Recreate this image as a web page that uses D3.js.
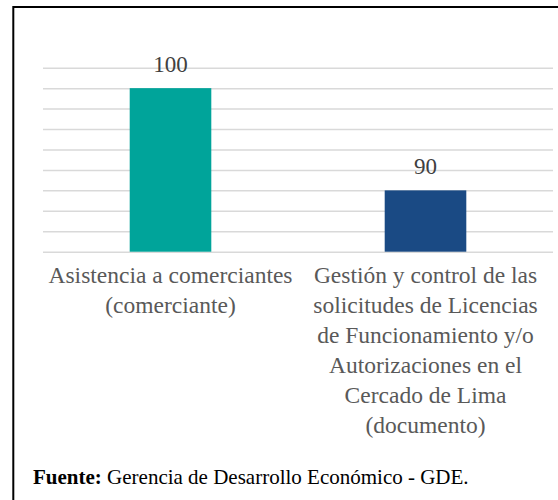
<!DOCTYPE html>
<html lang="es">
<head>
  <meta charset="UTF-8">
  <title>Asistencia y gestión - GDE</title>
  <script src="https://d3js.org/d3.v7.min.js"></script>
  <style>
    body { margin: 0; background: #fff; }
    svg { display: block; }
    text { font-family: 'Liberation Serif', Tinos, 'Times New Roman', 'DejaVu Serif', serif; }
  </style>
</head>
<body>
  <svg id="chart" width="558" height="500"></svg>

  <script>
    // data
    const categories = ["Asistencia a comerciantes (comerciante)",
      "Gestión y control de las solicitudes de Licencias de Funcionamiento y/o Autorizaciones en el Cercado de Lima (documento)"];
    const categoryLines = [
      ["Asistencia a comerciantes", "(comerciante)"],
      ["Gestión y control de las", "solicitudes de Licencias", "de Funcionamiento y/o",
        "Autorizaciones en el", "Cercado de Lima", "(documento)"]
    ];
    const values = [100, 90];
    const barColors = ["#00A49A", "#1A4A84"];
    const gridTicks = [84, 86, 88, 90, 92, 94, 96, 98, 100, 102];
    const sourceLabel = "Fuente:";
    const sourceText = " Gerencia de Desarrollo Económico - GDE.";

    const serif = "'Liberation Serif', Tinos, 'Times New Roman', 'DejaVu Serif', serif";

    const svg = d3.select("#chart");
    const margin = { top: 67.7, right: 5, bottom: 248.3, left: 43 };
    const width = +svg.attr("width");
    const height = +svg.attr("height");
    const chartWidth = width - margin.left - margin.right;
    const chartHeight = height - margin.top - margin.bottom;

    // frame (cut at right and bottom in the original)
    svg.append("rect")
      .attr("x", 13.3).attr("y", 7)
      .attr("width", 700).attr("height", 700)
      .attr("fill", "none")
      .attr("stroke", "#000")
      .attr("stroke-width", 2);

    const g = svg.append("g")
      .attr("transform", `translate(${margin.left},${margin.top})`);

    const x = d3.scaleBand()
      .domain(categories)
      .range([0, chartWidth])
      .paddingInner(0.68)
      .paddingOuter(0.34);

    const y = d3.scaleLinear()
      .domain([84, 102])
      .range([chartHeight, 0]);

    // gridlines
    g.append("g")
      .attr("class", "grid")
      .call(d3.axisLeft(y).tickValues(gridTicks).tickSize(-chartWidth).tickFormat(""))
      .call(a => a.select(".domain").remove())
      .call(a => a.selectAll("line").attr("stroke", "#d9d9d9").attr("stroke-width", 1.5));

    // bars
    g.selectAll("rect.bar")
      .data(values)
      .join("rect")
      .attr("class", "bar")
      .attr("x", (d, i) => x(categories[i]))
      .attr("y", d => y(d))
      .attr("width", x.bandwidth())
      .attr("height", d => chartHeight - y(d))
      .attr("fill", (d, i) => barColors[i]);

    // value labels
    g.selectAll("text.value")
      .data(values)
      .join("text")
      .attr("class", "value")
      .attr("x", (d, i) => x(categories[i]) + x.bandwidth() / 2)
      .attr("y", d => y(d) - 16)
      .attr("text-anchor", "middle")
      .attr("fill", "#404040")
      .attr("font-family", serif)
      .style("font-size", "23px")
      .text(d => d);

    // category labels
    const lineHeight = 30;
    const labels = g.selectAll("text.cat")
      .data(categories)
      .join("text")
      .attr("class", "cat")
      .attr("text-anchor", "middle")
      .attr("fill", "#595959")
      .attr("font-family", serif)
      .style("font-size", "23.5px")
      .attr("transform", d => `translate(${x(d) + x.bandwidth() / 2},${chartHeight + 31})`);

    labels.selectAll("tspan")
      .data((d, i) => categoryLines[i])
      .join("tspan")
      .attr("x", 0)
      .attr("y", (d, i) => i * lineHeight)
      .text(d => d);

    // source note
    const src = svg.append("text")
      .attr("x", 33)
      .attr("y", 484)
      .attr("fill", "#000")
      .attr("font-family", serif)
      .style("font-size", "21px");
    src.append("tspan").attr("font-weight", "bold").text(sourceLabel);
    src.append("tspan").text(sourceText);
  </script>
</body>
</html>
